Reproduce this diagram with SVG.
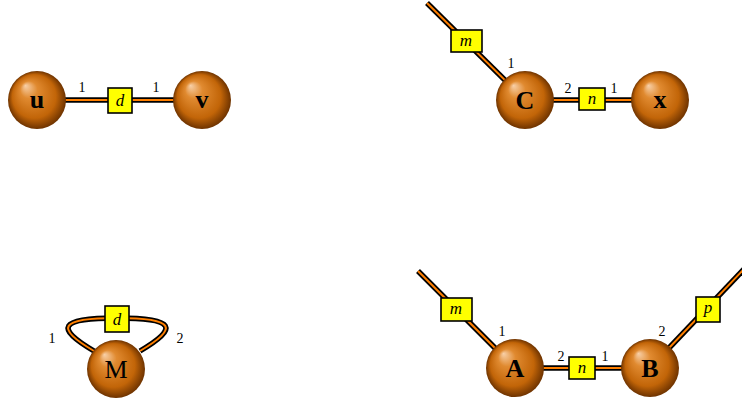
<svg xmlns="http://www.w3.org/2000/svg" width="742" height="403" viewBox="0 0 742 403">
<style>
.eo{fill:none;stroke:#000;stroke-width:5.5;stroke-linecap:butt}
.ei{fill:none;stroke:#ff7f00;stroke-width:2}
.box{fill:#ffff00;stroke:#000;stroke-width:1.6}
.ball{fill:url(#g)}
text{fill:#000}
.nl{font-family:'Liberation Serif',serif;font-size:26px;font-weight:bold;text-anchor:middle}
.bl{font-family:'Liberation Serif',serif;font-size:17px;font-style:italic;text-anchor:middle}
.el{font-family:'Liberation Serif',serif;font-size:14px;text-anchor:middle}
</style>
<defs>
<radialGradient id="g" cx="0.5" cy="0.5" r="0.5" fx="0.3" fy="0.25">
<stop offset="0" stop-color="#f8d0a8"/>
<stop offset="0.3" stop-color="#e08a30"/>
<stop offset="0.75" stop-color="#c26508"/>
<stop offset="1" stop-color="#6e3300"/>
</radialGradient>
</defs>
<g id="connectors">
<path class="eo" d="M37 100H202"/><path class="ei" d="M37 100H202"/>
<path class="eo" d="M427 3L525 100"/><path class="ei" d="M427 3L525 100"/>
<path class="eo" d="M525 100H660"/><path class="ei" d="M525 100H660"/>
<path class="eo" d="M94 351C55 328 58 318 117 318C176 318 179 328 140 351"/><path class="ei" d="M94 351C55 328 58 318 117 318C176 318 179 328 140 351"/>
<path class="eo" d="M418 271L515 368"/><path class="ei" d="M418 271L515 368"/>
<path class="eo" d="M515 368H650"/><path class="ei" d="M515 368H650"/>
<path class="eo" d="M650 368L745 268"/><path class="ei" d="M650 368L745 268"/>
</g>
<g id="node-u"><circle class="ball" cx="37" cy="100" r="29"/><text class="nl" x="37" y="108">u</text></g>
<g id="node-v"><circle class="ball" cx="202" cy="100" r="29"/><text class="nl" x="202" y="108">v</text></g>
<g id="box-d1"><rect class="box" x="108" y="88" width="24" height="25"/><text class="bl" x="120" y="106">d</text></g>
<text class="el" x="82" y="92">1</text><text class="el" x="156" y="92">1</text>
<g id="node-C"><circle class="ball" cx="525" cy="100" r="29"/><text class="nl" x="525" y="109">C</text></g>
<g id="node-x"><circle class="ball" cx="660" cy="100" r="29"/><text class="nl" x="660" y="108">x</text></g>
<g id="box-m1"><rect class="box" x="451" y="30" width="31" height="22"/><text class="bl" x="466" y="46">m</text></g>
<g id="box-n1"><rect class="box" x="579" y="88" width="26" height="22"/><text class="bl" x="592" y="104">n</text></g>
<text class="el" x="511" y="68">1</text><text class="el" x="568" y="93">2</text><text class="el" x="614" y="93">1</text>
<g id="node-M"><circle class="ball" cx="116" cy="369" r="29"/><text class="nl" style="font-weight:normal" x="116" y="378">M</text></g>
<g id="box-d2"><rect class="box" x="105" y="306" width="24" height="26"/><text class="bl" x="117" y="325">d</text></g>
<text class="el" x="52" y="343">1</text><text class="el" x="180" y="343">2</text>
<g id="node-A"><circle class="ball" cx="515" cy="368" r="29"/><text class="nl" x="515" y="377">A</text></g>
<g id="node-B"><circle class="ball" cx="650" cy="368" r="29"/><text class="nl" x="650" y="377">B</text></g>
<g id="box-m2"><rect class="box" x="441" y="298" width="31" height="23"/><text class="bl" x="456" y="314">m</text></g>
<g id="box-n2"><rect class="box" x="569" y="357" width="26" height="22"/><text class="bl" x="582" y="373">n</text></g>
<g id="box-p"><rect class="box" x="696" y="297" width="24" height="25"/><text class="bl" x="708" y="313">p</text></g>
<text class="el" x="502" y="336">1</text><text class="el" x="561" y="361">2</text><text class="el" x="605" y="361">1</text><text class="el" x="662" y="336">2</text>
</svg>
